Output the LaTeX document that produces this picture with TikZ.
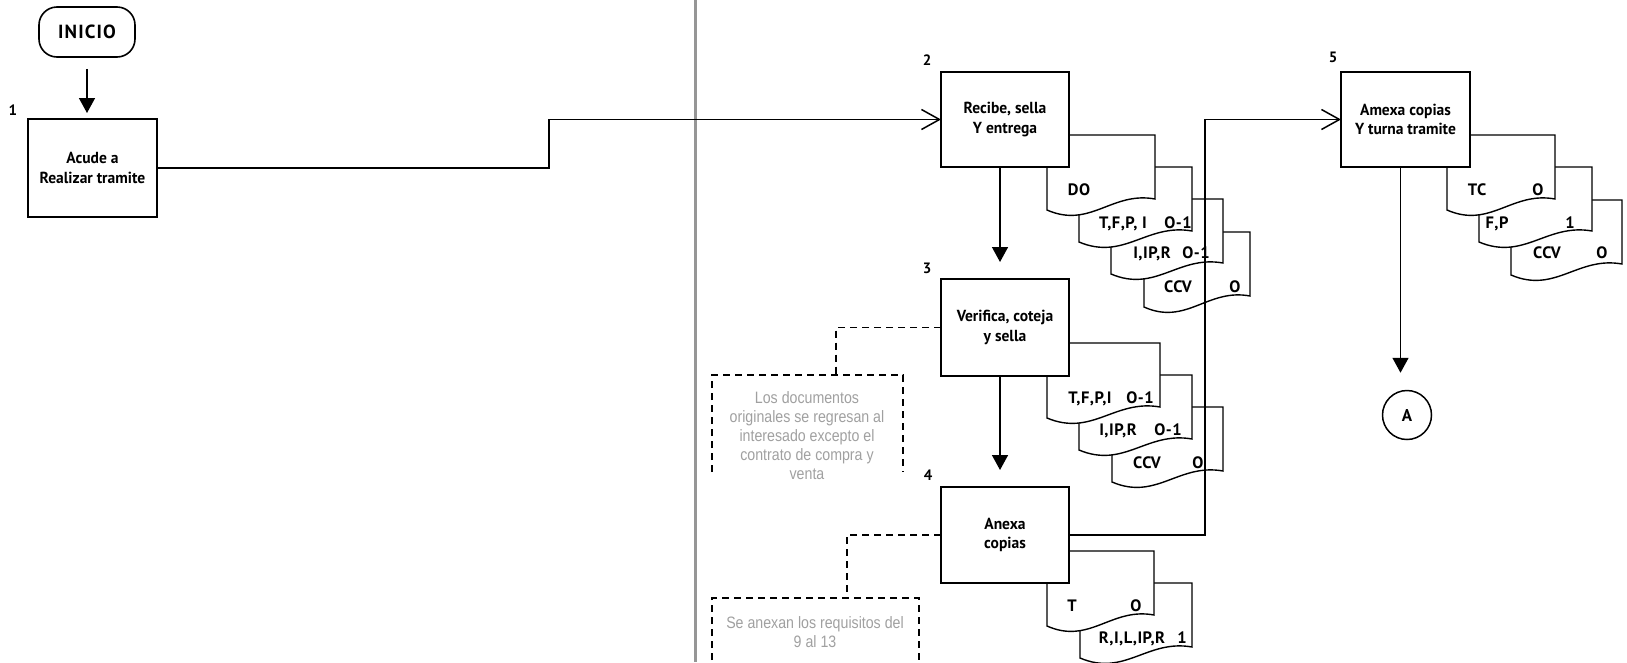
\documentclass[tikz,border=0pt]{standalone}
\usepackage{fontspec}
\setmainfont{PT Sans}
\newfontfamily\boxfont[FakeStretch=0.97]{PT Sans}
\newfontfamily\docfont[LetterSpace=3]{PT Sans}
\newfontfamily\startfont[LetterSpace=6]{PT Sans}
\newfontfamily\notefont[FakeStretch=0.86]{Liberation Sans}
\usetikzlibrary{arrows.meta}

\definecolor{dividergray}{RGB}{150,150,150}
\definecolor{notegray}{RGB}{160,160,160}

% document symbol with a wavy lower edge; #1,#2 = top-left corner, #3 = width
\newcommand{\flowdoc}[3]{%
  \draw[docline] (#1,#2) -- ({#1+#3},#2) -- ({#1+#3},{#2+64})
    .. controls ({#1+0.6*#3},{#2+56}) and ({#1+0.4*#3},{#2+94}) .. (#1,{#2+75}) -- cycle;}

\begin{document}
\begin{tikzpicture}[x=1pt,y=-1pt,
  procbox/.style={draw, line width=1.6pt, fill=white, inner sep=0pt, outer sep=0pt,
    anchor=north west, align=center, font=\boxfont\bfseries\fontsize{16}{19.5}\selectfont},
  docline/.style={draw, line width=1.4pt, fill=white},
  doclabel/.style={anchor=base, inner sep=0pt, font=\docfont\bfseries\fontsize{16.5}{19}\selectfont},
  steplabel/.style={inner sep=0pt, font=\bfseries\fontsize{15}{15}\selectfont},
  flow/.style={draw, line width=1.5pt},
  arrowdown/.style={-{Triangle[width=16pt,length=15pt]}},
  arrowopen/.style={-{Straight Barb[length=18pt,width=20pt]}},
  notelink/.style={draw, line width=1.6pt, dash pattern=on 7pt off 5pt},
  notetext/.style={align=center, text=notegray, inner sep=0pt,
    font=\notefont\fontsize{16.5}{19}\selectfont},
]
\useasboundingbox (0,0) rectangle (1627,662);

% swimlane divider
\draw[line width=3pt, dividergray] (695,0) -- (695,662);

% documents, back to front
\flowdoc{1144}{232}{106}
\flowdoc{1111}{199}{112}
\flowdoc{1079}{167}{113}
\flowdoc{1047}{135}{108}

\flowdoc{1112}{407}{111}
\flowdoc{1079}{375}{113}
\flowdoc{1047}{343}{113}

\flowdoc{1080}{583}{112}
\flowdoc{1047}{551}{107}

\flowdoc{1511}{200}{111}
\flowdoc{1479}{167}{113}
\flowdoc{1447}{135}{108}

% document labels
\node[doclabel] (d21) at (1079,195) {DO};
\node[doclabel] (d22a) at (1123,228) {T,F,P, I};
\node[doclabel] (d22b) at (1178,228) {O-1};
\node[doclabel] (d23a) at (1152,258) {I,IP,R};
\node[doclabel] (d23b) at (1196,258) {O-1};
\node[doclabel] (d24a) at (1178,292) {CCV};
\node[doclabel] (d24b) at (1235,292) {O};

\node[doclabel] (d31a) at (1090,403) {T,F,P,I};
\node[doclabel] (d31b) at (1140,403) {O-1};
\node[doclabel] (d32a) at (1118,435) {I,IP,R};
\node[doclabel] (d32b) at (1168,435) {O-1};
\node[doclabel] (d33a) at (1147,468) {CCV};
\node[doclabel] (d33b) at (1198,468) {O};

\node[doclabel] (d41a) at (1072,611) {T};
\node[doclabel] (d41b) at (1136,611) {O};
\node[doclabel] (d42a) at (1132,643) {R,I,L,IP,R};
\node[doclabel] (d42b) at (1182,643) {1};

\node[doclabel] (d51a) at (1477,195) {TC};
\node[doclabel] (d51b) at (1538,195) {O};
\node[doclabel] (d52a) at (1497,228) {F,P};
\node[doclabel] (d52b) at (1570,228) {1};
\node[doclabel] (d53a) at (1547,258) {CCV};
\node[doclabel] (d53b) at (1602,258) {O};

% start terminal and process boxes
\node[draw, line width=1.6pt, rounded corners=18pt, minimum width=96pt, minimum height=50pt,
  font=\startfont\bfseries\fontsize{19}{19}\selectfont] (inicio) at (87,32) {INICIO};

\node[procbox, minimum width=129pt, minimum height=98pt] (b1) at (28,119) {Acude a\\Realizar tramite};
\node[procbox, minimum width=128pt, minimum height=95pt] (b2) at (941,72) {Recibe, sella\\Y entrega};
\node[procbox, minimum width=128pt, minimum height=97pt] (b3) at (941,279) {Verifica, coteja\\y sella};
\node[procbox, minimum width=128pt, minimum height=96pt] (b4) at (941,487) {Anexa\\copias};
\node[procbox, minimum width=129pt, minimum height=95pt] (b5) at (1341,72) {Amexa copias\\Y turna tramite};

\node[draw, circle, line width=1.5pt, minimum size=49pt, inner sep=0pt,
  font=\docfont\bfseries\fontsize{17}{17}\selectfont] (conA) at (1407,415) {A};

% step numbers
\node[steplabel] (n1) at (13,110) {1};
\node[steplabel] (n2) at (927,60) {2};
\node[steplabel] (n3) at (927,268) {3};
\node[steplabel] (n4) at (928,475) {4};
\node[steplabel] (n5) at (1333,57) {5};

% notes
\node[notetext] (note1) at (807,436) {Los documentos\\originales se regresan al\\interesado excepto el\\contrato de compra y\\venta};
\node[notetext] (note2) at (815,632) {Se anexan los requisitos del\\9 al 13};
\coordinate (note1top) at (836,375);
\coordinate (note2top) at (847,598);
\draw[notelink] (712,472) |- (903,375) -- (903,472);
\draw[notelink] (712,672) |- (919,598) -- (919,672);
\draw[notelink] (b3.west) -| (note1top);
\draw[notelink] (b4.west) -| (note2top);

% flow connectors
\draw[flow, arrowdown, shorten <=11pt, shorten >=6pt] (inicio.south) -- (inicio.south |- b1.north);
\draw[flow, arrowopen] (b1.east) -- ++(392,0) |- (b2.west);
\draw[flow, arrowdown, shorten >=17pt] ([xshift=-5pt]b2.south) -- ([xshift=-5pt]b3.north);
\draw[flow, arrowdown, shorten >=17pt] ([xshift=-5pt]b3.south) -- ([xshift=-5pt]b4.north);
\draw[flow, arrowopen] (b4.east) -- ++(136,0) |- (b5.west);
\draw[flow, arrowdown, shorten >=17pt] ([xshift=-5pt]b5.south) -- ([xshift=-5pt]b5.south |- conA.north);
\end{tikzpicture}
\end{document}
